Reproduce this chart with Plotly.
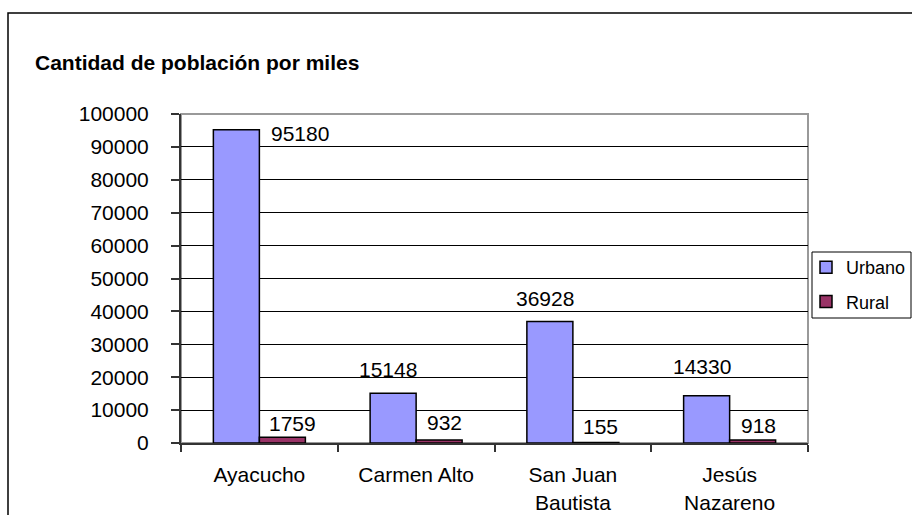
import plotly.graph_objects as go

categories = ["Ayacucho", "Carmen Alto", "San Juan<br>Bautista", "Jesús<br>Nazareno"]
urbano = [95180, 15148, 36928, 14330]
rural = [1759, 932, 155, 918]
y_ticks = [0, 10000, 20000, 30000, 40000, 50000, 60000, 70000, 80000, 90000, 100000]

# label offsets (pixels) relative to the top-centre of each bar: (dx, dy)
urb_label_off = [(64, -4), (-5, 24), (-5, 23), (-5, 29)]
rur_label_off = [(10, 14), (5, 17), (5, 16), (6, 14)]

FONT = "Liberation Sans, Arial, sans-serif"
W, H = 912, 515
L, R, T, B = 181, 104, 114, 72
PW, PH = W - L - R, H - T - B

fig = go.Figure()
fig.add_trace(go.Bar(name="Urbano", x=categories, y=urbano,
                     marker=dict(color="#9999FF", line=dict(color="black", width=1.5)),
                     legendgroup="u"))
fig.add_trace(go.Bar(name="Rural", x=categories, y=rural,
                     marker=dict(color="#993366", line=dict(color="black", width=1.5)),
                     legendgroup="r"))

annotations = []
for i, c in enumerate(categories):
    for vals, offs, sign in ((urbano, urb_label_off, -1), (rural, rur_label_off, 1)):
        dx, dy = offs[i]
        annotations.append(dict(x=c, y=vals[i], xref="x", yref="y", text=str(vals[i]),
                                showarrow=False, xshift=sign * 23 + dx, yshift=dy,
                                yanchor="middle", xanchor="center",
                                font=dict(family=FONT, size=21, color="black")))

def px_x(p):
    return (p - L) / PW

def px_y(p):
    return 1 - (p - T) / PH

shapes = [
    # outer chart border (left, top; right/bottom fall outside the picture)
    dict(type="rect", xref="paper", yref="paper", x0=px_x(8), x1=px_x(930),
         y0=px_y(560), y1=px_y(13), line=dict(color="black", width=1.5),
         fillcolor="rgba(0,0,0,0)", layer="below"),
    # plot-area border
    dict(type="rect", xref="paper", yref="paper", x0=0, x1=1, y0=0, y1=1,
         line=dict(color="#999999", width=2), fillcolor="rgba(0,0,0,0)", layer="below"),
    # legend box
    dict(type="rect", xref="paper", yref="paper", x0=px_x(812), x1=px_x(911),
         y0=px_y(318), y1=px_y(252), line=dict(color="black", width=1),
         fillcolor="white", layer="below"),
]

fig.update_layout(
    width=W, height=H,
    margin=dict(l=L, r=R, t=T, b=B, autoexpand=False),
    paper_bgcolor="white", plot_bgcolor="rgba(0,0,0,0)",
    barmode="group", bargap=0.413, bargroupgap=0,
    font=dict(family=FONT, size=21, color="black"),
    title=dict(text="<b>Cantidad de población por miles</b>", xref="container", yref="container",
               x=35 / W, xanchor="left", y=1 - 63 / H, yanchor="middle",
               font=dict(family=FONT, size=21, color="black")),
    xaxis=dict(type="category", tickson="boundaries", ticks="outside", ticklen=7,
               tickcolor="#333333", tickwidth=1.5, showline=True, linecolor="#333333",
               linewidth=2, showgrid=False, ticklabelstandoff=12,
               tickfont=dict(family=FONT, size=21, color="black")),
    yaxis=dict(range=[0, 100000], tickvals=y_ticks, ticktext=[str(v) for v in y_ticks],
               ticks="outside", ticklen=8, tickcolor="#333333", tickwidth=1.5,
               showline=True, linecolor="#333333", linewidth=2,
               showgrid=True, gridcolor="black", gridwidth=1, zeroline=False,
               ticklabelstandoff=18,
               tickfont=dict(family=FONT, size=21, color="black")),
    legend=dict(x=px_x(806), y=px_y(249), xanchor="left", yanchor="top",
                borderwidth=0, bgcolor="rgba(0,0,0,0)",
                font=dict(family=FONT, size=18, color="black"),
                traceorder="grouped", tracegroupgap=8, itemwidth=30),
    annotations=annotations, shapes=shapes,
)

fig.write_html("out.html", config={"displayModeBar": False},
               post_script="document.body.style.margin='0';")
